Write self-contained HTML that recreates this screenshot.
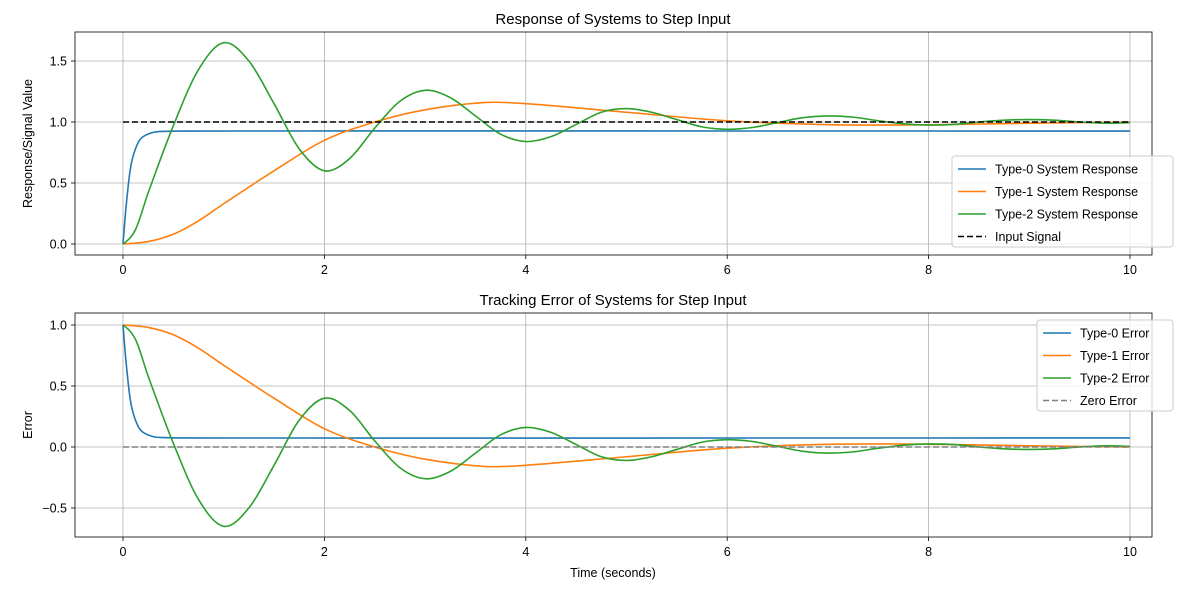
<!DOCTYPE html>
<html><head><meta charset="utf-8">
<style>
body{margin:0;background:#fff;}
svg text{font-family:"Liberation Sans","DejaVu Sans",sans-serif;fill:#000;}
</style></head>
<body>
<svg id="chart" width="1189" height="590" viewBox="0 0 1189 590" xmlns="http://www.w3.org/2000/svg"></svg>
<script>
// ---- data ----
const xTicks = [0, 2, 4, 6, 8, 10];
const topYTicks = [0.0, 0.5, 1.0, 1.5];
const botYTicks = [-0.5, 0.0, 0.5, 1.0];

const t0 = [0, 0.03, 0.07, 0.1, 0.15, 0.2, 0.3, 0.4, 0.6, 10];
const type0Resp = [0, 0.3, 0.6, 0.72, 0.83, 0.88, 0.915, 0.923, 0.926, 0.926];
const type0Err = [1, 0.7, 0.4, 0.28, 0.17, 0.12, 0.085, 0.077, 0.074, 0.074];

const t1 = [0, 0.25, 0.5, 0.75, 1, 1.5, 2, 2.5, 3, 3.6, 4, 5, 6, 7, 7.5, 8, 9, 10];
const type1Resp = [0, 0.02, 0.08, 0.19, 0.33, 0.6, 0.85, 1.0, 1.1, 1.16, 1.15, 1.08, 1.01, 0.978, 0.975, 0.977, 0.99, 1.0];
const type1Err = [1, 0.98, 0.92, 0.81, 0.67, 0.4, 0.15, 0.0, -0.1, -0.16, -0.15, -0.08, -0.01, 0.022, 0.025, 0.023, 0.01, 0.0];

const t2 = [0,0.125,0.25,0.5,0.75,1,1.25,1.5,1.75,2,2.25,2.5,2.75,3,3.25,3.5,3.75,4,4.25,4.5,4.75,5,5.25,5.5,5.75,6,6.25,6.5,6.75,7,7.25,7.5,7.75,8,8.25,8.5,8.75,9,9.25,9.5,9.75,10];
const type2Resp = [0,0.12,0.42,0.97,1.43,1.65,1.5,1.15,0.78,0.6,0.7,0.95,1.17,1.26,1.2,1.05,0.9,0.84,0.88,0.98,1.08,1.11,1.08,1.02,0.96,0.94,0.955,0.995,1.035,1.05,1.04,1.01,0.985,0.975,0.98,1.0,1.015,1.02,1.015,1.0,0.99,0.995];
const type2Err = [1,0.88,0.58,0.03,-0.43,-0.65,-0.5,-0.15,0.22,0.4,0.3,0.05,-0.17,-0.26,-0.2,-0.05,0.1,0.16,0.12,0.02,-0.08,-0.11,-0.08,-0.02,0.04,0.06,0.045,0.005,-0.035,-0.05,-0.04,-0.01,0.015,0.025,0.02,0.0,-0.015,-0.02,-0.015,0.0,0.01,0.005];

const tRef = [0, 10];
const inputSignal = [1, 1];
const zeroError = [0, 0];

// ---- drawing ----
const NS = "http://www.w3.org/2000/svg";
const svg = document.getElementById('chart');
function mk(tag, attrs, parent){
  const e = document.createElementNS(NS, tag);
  for (const k in attrs) e.setAttribute(k, attrs[k]);
  (parent||svg).appendChild(e);
  return e;
}
const X0 = 123, XPX = 100.7;
function xs(v){ return X0 + v * XPX; }
function makeY(zeroPx){ return v => zeroPx - v * 122; }

function smoothPath(ts, vs, y){
  const px = ts.map(xs), py = vs.map(y);
  const n = px.length;
  if (n === 2) return `M${px[0]},${py[0]} L${px[1]},${py[1]}`;
  const h = [], d = [];
  for (let i=0;i<n-1;i++){ h.push(px[i+1]-px[i]); d.push((py[i+1]-py[i])/h[i]); }
  const m = new Array(n);
  for (let i=1;i<n-1;i++){
    m[i] = (py[i+1]-py[i-1])/(px[i+1]-px[i-1]);
    if (d[i-1]*d[i] > 0) {
      const lim = 3*Math.min(Math.abs(d[i-1]),Math.abs(d[i]));
      if (Math.abs(m[i]) > lim) m[i] = Math.sign(m[i])*lim;
    }
  }
  m[0] = (3*d[0]-m[1])/2; if (m[0]*d[0] < 0) m[0] = 0;
  m[n-1] = (3*d[n-2]-m[n-2])/2; if (m[n-1]*d[n-2] < 0) m[n-1] = 0;
  let s = `M${px[0]},${py[0]}`;
  for (let i=0;i<n-1;i++){
    const k = h[i]/3;
    s += ` C${px[i]+k},${py[i]+m[i]*k} ${px[i+1]-k},${py[i+1]-m[i+1]*k} ${px[i+1]},${py[i+1]}`;
  }
  return s;
}

function axes(name, top, bottom, y, yTicks, title, ylabel, series, legend){
  const g = mk('g', {});
  
  
  xTicks.forEach(v=>{
    const l = mk('line',{x1:xs(v),x2:xs(v),y1:top,y2:bottom,stroke:'#b0b0b0','stroke-width':0.8},g);
     
    const tk = mk('line',{x1:xs(v),x2:xs(v),y1:bottom,y2:bottom+4,stroke:'#000','stroke-width':0.8},g);
     
    const tx = mk('text',{x:xs(v),y:bottom+19,'text-anchor':'middle','font-size':12.5},g);
    tx.textContent = v;
     
  });
  yTicks.forEach(v=>{
    const l = mk('line',{x1:75,x2:1152,y1:y(v),y2:y(v),stroke:'#b0b0b0','stroke-width':0.8},g);
     
    const tk = mk('line',{x1:71,x2:75,y1:y(v),y2:y(v),stroke:'#000','stroke-width':0.8},g);
     
    const tx = mk('text',{x:67,y:y(v)+4.5,'text-anchor':'end','font-size':12.5},g);
    tx.textContent = v < 0 ? '\u2212' + Math.abs(v).toFixed(1) : v.toFixed(1);
     
  });
  series.forEach(s=>{
    const p = mk('path',{d:smoothPath(s.t,s.v,y),fill:'none',stroke:s.c,'stroke-width':1.6,'stroke-dasharray':s.dash||'none'},g);
    
    
  });
  const fr = mk('rect',{x:75,y:top,width:1077,height:bottom-top,fill:'none',stroke:'#000','stroke-width':0.8},g);
   
  const tt = mk('text',{x:613,y:top-8,'text-anchor':'middle','font-size':15},g);
  tt.textContent = title;
   
  const yl = mk('text',{x:0,y:0,'text-anchor':'middle','font-size':12.5,transform:`translate(32,${(top+bottom)/2}) rotate(-90)`},g);
  yl.textContent = ylabel;
   
  const lg = mk('g',{},g);
   
  const box = mk('rect',{x:legend.x,y:legend.y,width:legend.w,height:legend.entries.length*22.5+1,fill:'#fff','fill-opacity':0.8,stroke:'#ccc',rx:3},lg);
   
  legend.entries.forEach((s,i)=>{
    const yy = legend.y + 13 + i*22.5;
    const ln = mk('line',{x1:legend.x+6,x2:legend.x+34,y1:yy,y2:yy,stroke:s.c,'stroke-width':1.6,'stroke-dasharray':s.dash||'none'},lg);
     
    const tx = mk('text',{x:legend.x+43,y:yy+4.5,'font-size':12.5},lg);
    tx.textContent = s.label;
     
  });
}

const C0='#1f77b4', C1='#ff7f0e', C2='#2ca02c';
const topSeries = [
  {name:'type0-response-line',t:t0,v:type0Resp,c:C0,label:'Type-0 System Response'},
  {name:'type1-response-line',t:t1,v:type1Resp,c:C1,label:'Type-1 System Response'},
  {name:'type2-response-line',t:t2,v:type2Resp,c:C2,label:'Type-2 System Response'},
  {name:'input-signal-line',t:tRef,v:inputSignal,c:'#000',dash:'6,3',label:'Input Signal'}
];
axes('response-axes',32,255,makeY(244),topYTicks,'Response of Systems to Step Input','Response/Signal Value',topSeries,{x:952,y:156,w:221,entries:topSeries});

const botSeries = [
  {name:'type0-error-line',t:t0,v:type0Err,c:C0,label:'Type-0 Error'},
  {name:'type1-error-line',t:t1,v:type1Err,c:C1,label:'Type-1 Error'},
  {name:'type2-error-line',t:t2,v:type2Err,c:C2,label:'Type-2 Error'},
  {name:'zero-error-line',t:tRef,v:zeroError,c:'#808080',dash:'6,3',label:'Zero Error'}
];
axes('error-axes',313,537,makeY(447),botYTicks,'Tracking Error of Systems for Step Input','Error',botSeries,{x:1037,y:320,w:136,entries:botSeries});

const xl = mk('text',{x:613,y:577,'text-anchor':'middle','font-size':12.5});
xl.textContent = 'Time (seconds)';


</script>
</body></html>
